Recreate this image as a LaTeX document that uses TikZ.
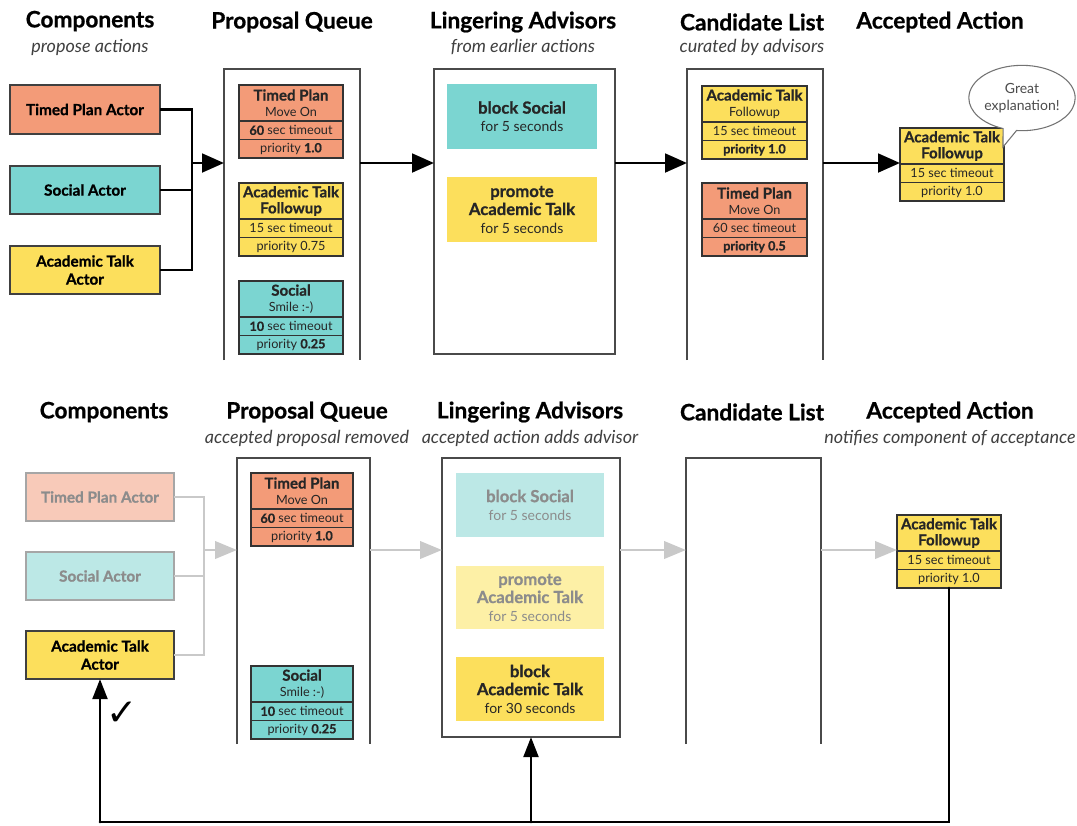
\documentclass[tikz,border=0pt]{standalone}
\usepackage{fontspec}
\setmainfont{Lato}[BoldFeatures={FakeBold=0.8}]
\newfontfamily\symfont{DejaVu Sans}
\usetikzlibrary{arrows.meta,shapes.callouts,shapes.geometric}
\definecolor{cSal}{HTML}{F39B78}
\definecolor{cTeal}{HTML}{7BD5D1}
\definecolor{cYel}{HTML}{FCDF5C}
\definecolor{cSalF}{HTML}{F8CAB9}
\definecolor{cTealF}{HTML}{BCE8E6}
\definecolor{cYelF}{HTML}{FDF0A6}
\definecolor{cLine}{HTML}{4A4A4A}
\definecolor{cGrayArr}{HTML}{C9C9C9}
\definecolor{cFadeTxt}{HTML}{8C8C8C}
\newcommand\ctf{\fontsize{11.3}{13}\selectfont\bfseries}
\newcommand\lbf{\fontsize{12.5}{14}\selectfont\bfseries}
\newcommand\pbox[7]{\node[#6, minimum width={((#4)-(#2))*0.75pt}, minimum height={((#5)-(#3))*0.75pt}, inner sep=0pt, outer sep=0pt] (#1) at ({((#2)+(#4))/2},{((#3)+(#5))/2}) {#7};}
\newcommand\card[8]{%
 \pbox{#1t}{#2}{#4}{#3}{(#4)+36}{cardsec,fill=#5}{#6}%
 \pbox{#1a}{#2}{(#4)+36}{#3}{(#4)+54.5}{cardsec,fill=#5}{#7}%
 \pbox{#1b}{#2}{(#4)+54.5}{#3}{(#4)+73}{cardsec,fill=#5}{#8}%
}
\tikzset{
 ttl/.style={font=\fontsize{17}{20}\selectfont\bfseries, inner sep=0pt},
 sub/.style={font=\fontsize{13.5}{16}\selectfont\itshape, text=black!75, inner sep=0pt},
 actor/.style={draw=black!75, line width=1.5pt, align=center, font=\fontsize{11.5}{13.5}\selectfont\bfseries},
 actorF/.style={draw=black!35, line width=1.5pt, align=center, text=cFadeTxt, font=\fontsize{11.5}{13.5}\selectfont\bfseries},
 cardsec/.style={draw=black!80, line width=1.1pt, align=center, text=black!85, font=\fontsize{9.5}{12}\selectfont},
 lbox/.style={align=center, font=\fontsize{10.5}{13.5}\selectfont, text=black!85},
 cont/.style={draw=cLine, line width=1.5pt},
 conn/.style={draw=black, line width=2.2pt},
 connF/.style={draw=cGrayArr, line width=2.2pt},
 arr/.style={conn, -{Triangle[length=16.5pt,width=14pt]}},
 arrF/.style={connF, -{Triangle[length=16.5pt,width=13pt]}},
 fb/.style={draw=black, line width=2.2pt, line cap=round},
 fbarr/.style={fb, -{Triangle[length=15pt,width=11pt]}},
}
\begin{document}
\begin{tikzpicture}[x=0.75pt,y=-0.75pt]
\useasboundingbox[fill=white] (0,0) rectangle (1077,825);
% ---------- top titles
\node[ttl] (t1) at (90,21) {Components};
\node[sub] (s1) at (90,47) {propose actions};
\node[ttl] (t2) at (292,22) {Proposal Queue};
\node[ttl] (t3) at (523,22) {Lingering Advisors};
\node[sub] (s3) at (523,47) {from earlier actions};
\node[ttl] (t4) at (752,22) {Candidate List};
\node[sub] (s4) at (752,47) {curated by advisors};
\node[ttl] (t5) at (940,22) {Accepted Action};
% ---------- top actors
\pbox{tpa}{10}{85}{160}{134}{actor,fill=cSal}{Timed Plan Actor}
\pbox{soa}{10}{166}{160}{214}{actor,fill=cTeal}{Social Actor}
\pbox{ata}{10}{246}{160}{294}{actor,fill=cYel}{Academic Talk\\Actor}
\coordinate (jn) at (192,163);
\draw[conn] (tpa.east) -| (jn);
\draw[conn] (soa.east) -| (jn);
\draw[conn] (ata.east) -| (jn);
% containers
\pbox{pq}{224}{69}{360}{360}{}{}
\draw[cont] (pq.south west) -- (pq.north west) -- (pq.north east) -- (pq.south east);
\pbox{la}{434}{69}{615}{354}{cont}{}
\pbox{cl}{687}{69}{823}{360}{}{}
\draw[cont] (cl.south west) -- (cl.north west) -- (cl.north east) -- (cl.south east);
\draw[arr] (jn) -- (pq.west |- jn);
\draw[arr] (pq.east |- jn) -- (la.west |- jn);
\draw[arr] (la.east |- jn) -- (cl.west |- jn);
% proposal queue cards
\card{qa}{239}{343}{85}{cSal}{{\ctf Timed Plan}\\Move On}{{\bfseries 60} sec timeout}{priority {\bfseries 1.0}}
\card{qb}{239}{343}{183}{cYel}{{\ctf Academic Talk}\\{\ctf Followup}}{15 sec timeout}{priority 0.75}
\card{qc}{239}{343}{281}{cTeal}{{\ctf Social}\\Smile :-)}{{\bfseries 10} sec timeout}{priority {\bfseries 0.25}}
% lingering
\pbox{lb1}{447}{84}{597}{149}{lbox,fill=cTeal}{{\lbf block Social}\\for 5 seconds}
\pbox{lb2}{447}{177}{597}{242}{lbox,fill=cYel}{{\lbf promote}\\{\lbf Academic Talk}\\for 5 seconds}
% candidate
\card{ca}{702}{807}{86}{cYel}{{\ctf Academic Talk}\\Followup}{15 sec timeout}{{\bfseries priority 1.0}}
\card{cb}{702}{807}{183}{cSal}{{\ctf Timed Plan}\\Move On}{60 sec timeout}{{\bfseries priority 0.5}}
% accepted
\card{ac}{900}{1004}{128}{cYel}{{\ctf Academic Talk}\\{\ctf Followup}}{15 sec timeout}{priority 1.0}
\draw[arr] (cl.east |- jn) -- (act.west |- jn);
\coordinate (tip) at (1003,147);
\node[ellipse callout, draw=black!55, fill=white, line width=0.8pt, minimum width=78pt, minimum height=49pt, inner sep=0pt, callout absolute pointer={(tip)}, align=center, text=black!70, font=\fontsize{10.5}{13}\selectfont] (bub) at (1022,98) {Great\\explanation!};
% ---------- bottom titles
\node[ttl] (b1) at (104,412) {Components};
\node[ttl] (b2) at (307,412) {Proposal Queue};
\node[sub] (bs2) at (307,438) {accepted proposal removed};
\node[ttl] (b3) at (530,412) {Lingering Advisors};
\node[sub] (bs3) at (530,438) {accepted action adds advisor};
\node[ttl] (b4) at (752,412) {Candidate List};
\node[ttl] (b5) at (950,412) {Accepted Action};
\node[sub] (bs5) at (950,438) {notifies component of acceptance};
% bottom actors
\pbox{tpb}{26}{473}{174}{521}{actorF,fill=cSalF}{Timed Plan Actor}
\pbox{sob}{26}{552}{174}{600}{actorF,fill=cTealF}{Social Actor}
\pbox{atb}{26}{631}{174}{679}{actor,fill=cYel}{Academic Talk\\Actor}
\coordinate (jn2) at (204,550);
\draw[connF] (tpb.east) -| (jn2);
\draw[connF] (sob.east) -| (jn2);
\draw[connF] (atb.east) -| (jn2);
\pbox{pq2}{237}{458}{370}{744}{}{}
\draw[cont] (pq2.south west) -- (pq2.north west) -- (pq2.north east) -- (pq2.south east);
\pbox{la2}{442}{458}{620}{737}{cont}{}
\pbox{cl2}{686}{458}{821}{744}{}{}
\draw[cont] (cl2.south west) -- (cl2.north west) -- (cl2.north east) -- (cl2.south east);
\draw[arrF] (jn2) -- (pq2.west |- jn2);
\draw[arrF] (pq2.east |- jn2) -- (la2.west |- jn2);
\draw[arrF] (la2.east |- jn2) -- (cl2.west |- jn2);
\card{qd}{251}{353}{473}{cSal}{{\ctf Timed Plan}\\Move On}{{\bfseries 60} sec timeout}{priority {\bfseries 1.0}}
\card{qe}{251}{353}{666}{cTeal}{{\ctf Social}\\Smile :-)}{{\bfseries 10} sec timeout}{priority {\bfseries 0.25}}
\pbox{lb3}{456}{473}{604}{537}{lbox,fill=cTealF,text=cFadeTxt}{{\lbf block Social}\\for 5 seconds}
\pbox{lb4}{456}{566}{604}{629}{lbox,fill=cYelF,text=cFadeTxt}{{\lbf promote}\\{\lbf Academic Talk}\\for 5 seconds}
\pbox{lb5}{456}{657}{604}{721}{lbox,fill=cYel}{{\lbf block}\\{\lbf Academic Talk}\\for 30 seconds}
\card{ad}{897}{1001}{515}{cYel}{{\ctf Academic Talk}\\{\ctf Followup}}{15 sec timeout}{priority 1.0}
\draw[arrF] (cl2.east |- jn2) -- (adt.west |- jn2);
% feedback
\coordinate (fbc) at (0,822);
\draw[fb] (adb.south) -- (adb.south |- fbc) -- (atb.south |- fbc);
\draw[fbarr] (atb.south |- fbc) -- (atb.south);
\draw[fbarr] (la2.south |- fbc) -- (la2.south);
\node[font=\symfont\fontsize{28}{28}\selectfont, inner sep=0pt] (chk) at (122,714) {✓};
\end{tikzpicture}
\end{document}
